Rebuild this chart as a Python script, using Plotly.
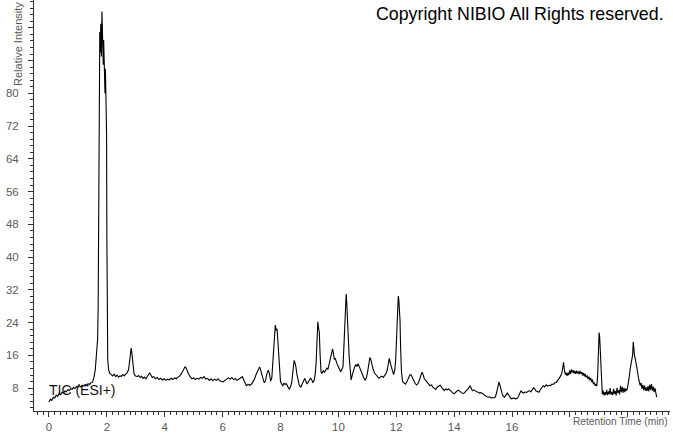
import plotly.graph_objects as go

# Retention time (min) and relative intensity (%)
time_min = [
    0.00, 0.05, 0.10, 0.15, 0.20, 0.25, 0.30, 0.35, 0.40, 0.45,
    0.50, 0.55, 0.60, 0.65, 0.70, 0.75, 0.80, 0.85, 0.90, 0.95,
    1.00, 1.05, 1.10, 1.15, 1.20, 1.25, 1.30, 1.35, 1.40, 1.45,
    1.50, 1.55, 1.60, 1.65, 1.68, 1.70, 1.72, 1.74, 1.755, 1.77,
    1.79, 1.81, 1.83, 1.845, 1.86, 1.875, 1.89, 1.905, 1.92, 1.935,
    1.95, 1.965, 1.98, 1.99, 2.00, 2.01, 2.03, 2.06, 2.10, 2.15,
    2.20, 2.25, 2.30, 2.35, 2.40, 2.45, 2.50, 2.55, 2.60, 2.65,
    2.70, 2.75, 2.78, 2.81, 2.84, 2.86, 2.88, 2.91, 2.94, 2.98,
    3.05, 3.10, 3.15, 3.20, 3.25, 3.30, 3.35, 3.40, 3.45, 3.48,
    3.52, 3.57, 3.62, 3.68, 3.74, 3.80, 3.86, 3.92, 3.98, 4.04,
    4.10, 4.16, 4.22, 4.28, 4.34, 4.40, 4.46, 4.52, 4.58, 4.64,
    4.70, 4.74, 4.78, 4.83, 4.88, 4.94, 5.00, 5.06, 5.12, 5.18,
    5.24, 5.30, 5.36, 5.42, 5.48, 5.54, 5.60, 5.66, 5.72, 5.78,
    5.84, 5.90, 5.96, 6.02, 6.08, 6.14, 6.20, 6.26, 6.32, 6.38,
    6.44, 6.50, 6.56, 6.62, 6.68, 6.72, 6.77, 6.82, 6.88, 6.94,
    7.00, 7.05, 7.10, 7.16, 7.22, 7.28, 7.32, 7.36, 7.40, 7.44,
    7.48, 7.53, 7.58, 7.62, 7.66, 7.70, 7.73, 7.76, 7.79, 7.82,
    7.85, 7.88, 7.91, 7.94, 7.97, 8.00, 8.04, 8.08, 8.12, 8.16,
    8.20, 8.24, 8.28, 8.31, 8.35, 8.39, 8.43, 8.47, 8.50, 8.53,
    8.57, 8.61, 8.65, 8.70, 8.75, 8.80, 8.84, 8.88, 8.92, 8.96,
    9.00, 9.04, 9.08, 9.12, 9.16, 9.20, 9.23, 9.26, 9.29, 9.32,
    9.34, 9.37, 9.40, 9.44, 9.48, 9.52, 9.56, 9.60, 9.64, 9.68,
    9.72, 9.76, 9.80, 9.83, 9.86, 9.89, 9.92, 9.96, 10.00, 10.04,
    10.08, 10.12, 10.16, 10.19, 10.22, 10.25, 10.27, 10.29, 10.31, 10.34,
    10.37, 10.41, 10.44, 10.48, 10.52, 10.56, 10.60, 10.64, 10.68, 10.72,
    10.76, 10.80, 10.84, 10.88, 10.93, 10.97, 11.01, 11.05, 11.09, 11.12,
    11.16, 11.20, 11.25, 11.30, 11.35, 11.40, 11.45, 11.50, 11.55, 11.60,
    11.65, 11.69, 11.73, 11.76, 11.79, 11.83, 11.87, 11.91, 11.95, 11.98,
    12.01, 12.04, 12.07, 12.09, 12.11, 12.13, 12.15, 12.18, 12.22, 12.27,
    12.32, 12.37, 12.42, 12.47, 12.51, 12.55, 12.60, 12.65, 12.70, 12.75,
    12.80, 12.85, 12.89, 12.93, 12.97, 13.02, 13.07, 13.12, 13.17, 13.22,
    13.27, 13.32, 13.37, 13.42, 13.47, 13.52, 13.57, 13.62, 13.66, 13.71,
    13.76, 13.81, 13.86, 13.91, 13.96, 14.00, 14.05, 14.10, 14.15, 14.20,
    14.25, 14.30, 14.35, 14.40, 14.45, 14.50, 14.55, 14.59, 14.63, 14.68,
    14.73, 14.78, 14.83, 14.88, 14.93, 14.98, 15.03, 15.08, 15.13, 15.18,
    15.23, 15.28, 15.33, 15.38, 15.43, 15.47, 15.51, 15.55, 15.58, 15.62,
    15.66, 15.70, 15.74, 15.79, 15.84, 15.88, 15.92, 15.97, 16.02, 16.07,
    16.12, 16.17, 16.22, 16.27, 16.31, 16.35, 16.40, 16.45, 16.50, 16.55,
    16.60, 16.65, 16.70, 16.75, 16.79, 16.83, 16.88, 16.93, 16.98, 17.03,
    17.08, 17.13, 17.18, 17.23, 17.28, 17.33, 17.38, 17.43, 17.48, 17.53,
    17.58, 17.63, 17.68, 17.72, 17.75, 17.78, 17.81, 17.84, 17.87, 17.90,
    17.93, 17.96, 17.99, 18.02, 18.05, 18.08, 18.11, 18.14, 18.17, 18.20,
    18.23, 18.26, 18.29, 18.32, 18.35, 18.38, 18.41, 18.44, 18.47, 18.50,
    18.53, 18.56, 18.60, 18.63, 18.66, 18.69, 18.72, 18.75, 18.78, 18.81,
    18.84, 18.87, 18.90, 18.93, 18.96, 18.99, 19.01, 19.03, 19.05, 19.07,
    19.09, 19.12, 19.15, 19.18, 19.21, 19.24, 19.27, 19.30, 19.33, 19.36,
    19.39, 19.42, 19.45, 19.48, 19.51, 19.54, 19.57, 19.60, 19.63, 19.66,
    19.69, 19.72, 19.75, 19.78, 19.81, 19.84, 19.87, 19.90, 19.93, 19.96,
    19.99, 20.02, 20.05, 20.08, 20.11, 20.14, 20.17, 20.19, 20.21, 20.23,
    20.25, 20.27, 20.29, 20.31, 20.34, 20.37, 20.40, 20.43, 20.46, 20.49,
    20.52, 20.55, 20.58, 20.61, 20.64, 20.67, 20.70, 20.73, 20.76, 20.79,
    20.82, 20.85, 20.88, 20.91, 20.94, 20.97, 21.00,
]

rel_intensity = [
    4.6, 5.3, 5.0, 5.8, 5.6, 6.3, 6.0, 6.7, 6.4, 7.0,
    6.8, 7.3, 7.1, 7.6, 7.4, 7.9, 7.7, 8.2, 7.9, 8.4,
    8.2, 8.6, 8.3, 8.7, 8.5, 8.9, 8.7, 9.1, 8.9, 9.3,
    9.4, 10.5, 12.5, 16.5, 20.0, 28.0, 45.0, 70.0, 95.0, 90.0,
    97.0, 89.0, 100.0, 92.0, 96.0, 87.0, 93.0, 84.0, 90.0, 80.0,
    86.0, 79.0, 83.0, 70.0, 45.0, 25.0, 15.0, 12.5, 11.6, 11.3,
    11.0, 11.4, 10.8, 11.2, 10.7, 11.0, 10.9, 11.3, 11.0, 11.4,
    11.8, 12.5, 14.0, 16.5, 17.8, 16.8, 15.0, 13.0, 11.5, 11.0,
    10.8, 11.1, 10.6, 10.9, 10.4, 10.7, 10.3, 10.9, 11.5, 11.7,
    11.2, 10.6, 10.8, 10.3, 10.6, 10.1, 10.4, 10.0, 10.3, 9.9,
    10.2, 10.0, 10.4, 10.1, 10.5, 10.3, 10.7, 11.0, 11.6, 12.4,
    13.2, 12.9, 12.1, 11.4, 10.8, 10.3, 10.5, 10.1, 10.4, 10.2,
    10.6, 10.4, 10.8, 10.2, 10.4, 9.9, 10.3, 9.8, 10.2, 9.9,
    10.3, 9.8, 9.6, 9.5, 9.9, 10.1, 10.5, 10.2, 10.6, 10.1,
    10.3, 9.9, 10.2, 10.5, 10.8, 10.2, 9.2, 8.6, 8.9, 8.7,
    9.0, 9.6, 10.2, 11.4, 12.4, 13.2, 12.3, 11.0, 10.2, 9.3,
    9.8, 11.5, 12.4, 11.4, 9.7, 10.5, 13.5, 17.5, 21.5, 23.4,
    22.1, 22.5, 19.5, 15.5, 11.5, 9.6, 9.0, 8.6, 9.2, 8.9,
    9.1, 8.4, 8.0, 7.8, 8.4, 9.5, 12.5, 14.8, 14.2, 13.3,
    11.3, 9.6, 8.7, 8.2, 8.9, 9.9, 10.4, 9.6, 9.0, 9.5,
    10.0, 10.5, 10.0, 9.4, 9.8, 11.5, 14.0, 20.0, 24.2, 22.5,
    21.8, 16.0, 12.0, 11.6, 12.3, 11.8, 12.4, 12.9, 12.6, 13.8,
    15.2, 16.8, 17.6, 16.5, 15.0, 15.3, 14.4, 13.8, 13.2, 12.3,
    12.0, 12.6, 13.2, 18.0, 25.0, 29.5, 31.0, 28.8, 26.5, 21.0,
    16.0, 11.5, 10.0, 11.2, 12.4, 13.1, 13.8, 13.3, 14.0, 13.2,
    12.4, 12.0, 11.2, 10.5, 9.9, 10.6, 12.0, 13.8, 15.5, 15.0,
    13.5, 12.6, 11.7, 11.2, 10.8, 10.4, 10.7, 10.9, 10.6, 11.0,
    11.6, 12.5, 14.3, 15.3, 14.3, 12.8, 12.2, 11.3, 12.5, 14.8,
    20.0, 26.0, 30.5, 29.5, 27.0, 24.5, 18.0, 12.0, 9.6, 9.2,
    9.0, 9.6, 10.5, 11.2, 11.3, 10.6, 9.6, 9.2, 8.8, 9.1,
    10.0, 11.0, 11.9, 11.3, 10.3, 9.9, 9.3, 9.0, 8.6, 8.8,
    8.2, 7.9, 7.7, 8.3, 8.5, 8.7, 8.2, 7.6, 7.4, 7.8,
    7.6, 7.8, 7.4, 7.1, 6.8, 6.6, 7.0, 7.3, 7.5, 7.1,
    6.9, 6.7, 6.8, 7.2, 7.5, 8.0, 8.6, 8.1, 7.4, 7.6,
    7.3, 7.1, 7.0, 6.8, 6.9, 6.6, 6.3, 6.0, 5.9, 5.8,
    5.9, 5.6, 5.7, 5.6, 5.9, 7.0, 8.6, 9.5, 8.8, 7.6,
    6.6, 6.0, 5.8, 6.3, 6.8, 6.4, 5.8, 5.4, 5.5, 5.6,
    5.4, 5.5, 5.9, 6.6, 7.4, 7.0, 6.8, 7.1, 6.9, 7.2,
    7.4, 7.1, 7.5, 8.1, 7.8, 7.3, 7.2, 7.0, 7.6, 8.2,
    8.6, 8.3, 8.8, 8.5, 8.7, 8.6, 9.0, 8.9, 9.3, 9.4,
    9.8, 10.4, 11.0, 11.6, 12.8, 14.3, 12.5, 11.3, 11.8, 11.0,
    11.7, 11.2, 12.3, 11.5, 12.6, 11.8, 12.4, 11.6, 12.2, 11.5,
    12.3, 11.6, 12.1, 11.4, 12.2, 11.5, 11.9, 11.1, 11.7, 10.9,
    11.5, 10.6, 11.1, 10.2, 10.8, 9.9, 10.5, 9.5, 10.1, 9.0,
    9.4, 8.6, 8.9, 8.5, 11.0, 18.0, 21.6, 20.5, 17.0, 12.0,
    8.5, 6.5, 7.4, 6.2, 7.0, 6.4, 7.6, 6.3, 7.2, 6.5,
    8.0, 6.4, 7.1, 6.3, 7.8, 6.6, 7.3, 6.2, 8.1, 6.8,
    7.5, 6.5, 8.6, 7.0, 8.3, 6.9, 8.1, 7.0, 7.9, 7.4,
    8.0, 9.0, 10.7, 12.5, 14.2, 14.8, 16.2, 19.3, 17.0, 16.2,
    15.5, 14.8, 14.3, 13.6, 12.0, 10.5, 9.8, 8.6, 9.3, 7.9,
    8.8, 7.5, 8.6, 7.4, 8.2, 7.3, 8.5, 7.2, 8.8, 7.6,
    9.0, 7.4, 8.4, 7.0, 8.0, 6.8, 5.8,
]

assert len(time_min) == len(rel_intensity)

x_tick_vals = [0, 2, 4, 6, 8, 10, 12, 14, 16, 18, 20]
x_tick_text = ["0", "2", "4", "6", "8", "10", "12", "14", "16", "", ""]
y_tick_vals = [8, 16, 24, 32, 40, 48, 56, 64, 72, 80, 88, 96]
y_tick_text = ["8", "16", "24", "32", "40", "48", "56", "64", "72", "80", "", ""]

FONT = "Liberation Sans, Arial, sans-serif"
GREY = "#5a5a5a"

fig = go.Figure()
fig.add_trace(go.Scatter(
    x=time_min, y=rel_intensity, mode="lines",
    line=dict(color="black", width=1.1), hoverinfo="skip", showlegend=False,
))

fig.update_layout(
    width=673, height=433,
    margin=dict(l=34, r=3, t=0, b=19, pad=0),
    paper_bgcolor="white", plot_bgcolor="white",
    font=dict(family=FONT, size=11, color=GREY),
    xaxis=dict(
        range=[-0.518, 21.46], showgrid=False, zeroline=False,
        showline=True, linecolor="#333", linewidth=1,
        ticks="outside", ticklen=5, tickcolor="#333",
        tickmode="array", tickvals=x_tick_vals, ticktext=x_tick_text,
        tickfont=dict(size=11.5, color=GREY),
        minor=dict(dtick=0.2, tick0=0, ticks="outside", ticklen=3, tickcolor="#333", showgrid=False),
    ),
    yaxis=dict(
        range=[2.42, 102.8], showgrid=False, zeroline=False,
        showline=True, linecolor="#333", linewidth=1,
        ticks="outside", ticklen=5, tickcolor="#333",
        tickmode="array", tickvals=y_tick_vals, ticktext=y_tick_text,
        tickfont=dict(size=11.5, color=GREY), ticklabelstandoff=7,
        minor=dict(dtick=1.6, tick0=0, ticks="outside", ticklen=3, tickcolor="#333", showgrid=False),
    ),
    annotations=[
        dict(text="Copyright NIBIO All Rights reserved.", xref="paper", yref="paper",
             x=0.9937, y=0.966, xanchor="right", yanchor="middle", showarrow=False,
             font=dict(family=FONT, size=17.8, color="black")),
        dict(text="TIC (ESI+)", xref="paper", yref="paper",
             x=0.0204, y=0.0507, xanchor="left", yanchor="middle", showarrow=False,
             font=dict(family=FONT, size=14, color="#111")),
        dict(text="Relative Intensity", xref="paper", yref="paper", textangle=-90,
             x=-0.0252, y=1.0, xanchor="center", yanchor="top", showarrow=False,
             font=dict(family=FONT, size=11, color=GREY)),
        dict(text="Retention Time (min)", xref="paper", yref="paper",
             x=1.0, y=-0.026, xanchor="right", yanchor="middle", showarrow=False,
             font=dict(family=FONT, size=10.2, color=GREY)),
    ],
)

fig.write_html(
    "out.html",
    config={"displayModeBar": False},
    post_script="document.body.style.margin='0';document.body.style.overflow='hidden';",
)
